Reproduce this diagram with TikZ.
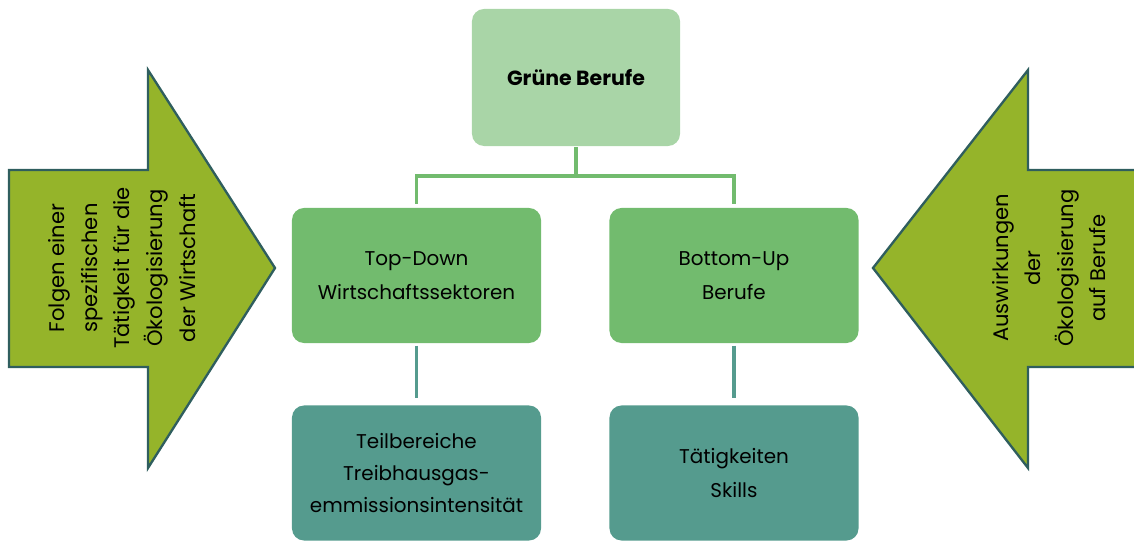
\documentclass[tikz,border=0pt]{standalone}
\usepackage{fontspec}
\setmainfont{Poppins}
\definecolor{cTop}{HTML}{A9D5A7}
\definecolor{cMid}{HTML}{72BB6E}
\definecolor{cBot}{HTML}{559B8E}
\definecolor{cArrow}{HTML}{95B42A}
\definecolor{cEdge}{HTML}{2F5E5E}
\tikzset{
  box/.style={rounded corners=0.36cm, minimum width=7.47cm, minimum height=4.05cm, align=center, inner sep=0pt, font=\fontsize{17}{29}\selectfont},
  topbox/.style={box, fill=cTop, minimum width=6.24cm, minimum height=4.11cm, font=\fontsize{17.5}{29}\selectfont\bfseries},
  midbox/.style={box, fill=cMid},
  botbox/.style={box, fill=cBot},
  bottext/.style={font=\fontsize{17}{27.5}\selectfont},
  bigarrow/.style={fill=cArrow, draw=cEdge, line width=2pt, line join=miter},
  arrowtext/.style={rotate=90, align=center, inner sep=0pt, font=\fontsize{18}{27.8}\selectfont},
  linkA/.style={draw=cMid, line width=3pt},
  linkB/.style={draw=cBot, line width=3pt}
}
\begin{document}
\begin{tikzpicture}[x=0.03cm, y=-0.03cm]
\useasboundingbox (0,0) rectangle (1134,541);
% arrows
\draw[bigarrow] (9,170) -- (148,170) -- (148,70) -- (275,268) -- (148,468) -- (148,367) -- (9,367) -- cycle;
\node[arrowtext] (ltext) at (122,268) {Folgen einer\\spezifischen\\Tätigkeit für die\\Ökologisierung\\der Wirtschaft};
\draw[bigarrow] (1136,170) -- (1028,170) -- (1028,70) -- (873,268) -- (1028,468) -- (1028,367) -- (1136,367);
\node[arrowtext] (rtext) at (1049,268) {Auswirkungen\\der\\Ökologisierung\\auf Berufe};
% boxes
\node[topbox] (top) at (576,77.5) {Grüne Berufe};
\node[midbox] (ml) at (416.5,275.5) {Top-Down\\Wirtschaftssektoren};
\node[midbox] (mr) at (734,275.5) {Bottom-Up\\Berufe};
\node[botbox, bottext] (bl) at (416.5,473) {Teilbereiche\\Treibhausgas-\\emmissionsintensität};
\node[botbox] (br) at (734,473) {Tätigkeiten\\Skills};
% connectors
\coordinate (bus) at (576,176);
\draw[linkA, shorten <=1pt] (top.south) -- (bus);
\draw[linkA, shorten >=3pt, line join=miter] (bus) -| (ml.north);
\draw[linkA, shorten >=3pt, line join=miter] (bus) -| (mr.north);
\draw[linkB, shorten <=2pt, shorten >=6pt] (ml.south) -- (bl.north);
\draw[linkB, shorten <=2pt, shorten >=6pt] (mr.south) -- (br.north);
\end{tikzpicture}
\end{document}
